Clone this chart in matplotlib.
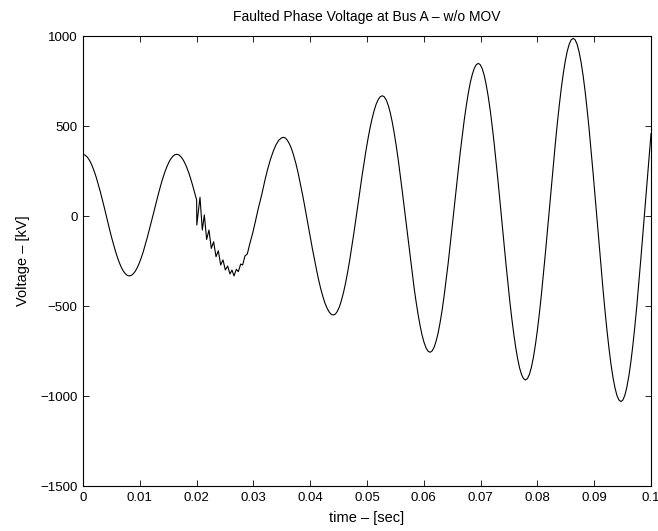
import matplotlib
matplotlib.use("Agg")
import matplotlib.pyplot as plt
#--- Values ---#
# prefault steady state (up to the fault instant)
prefault_t = [0.0, 0.00034, 0.00068, 0.00102, 0.00136, 0.00170, 0.00204, 0.00238, 0.00272, 0.00306,
              0.00340, 0.00374, 0.00408, 0.00441, 0.00475, 0.00509, 0.00543, 0.00577, 0.00611, 0.00645,
              0.00679, 0.00713, 0.00747, 0.00781, 0.00815, 0.00850, 0.00885, 0.00920, 0.00954, 0.00989,
              0.01024, 0.01059, 0.01093, 0.01128, 0.01163, 0.01198, 0.01233, 0.01267, 0.01302, 0.01337,
              0.01372, 0.01407, 0.01441, 0.01476, 0.01511, 0.01546, 0.01580, 0.01615, 0.0165, 0.01685,
              0.01719, 0.01754, 0.01788, 0.01823, 0.01858, 0.01892, 0.01927, 0.01975, 0.02001]
prefault_v = [342, 339, 330, 316, 297, 272, 243, 210, 173, 134,
              92, 49, 4, -40, -83, -125, -164, -201, -234, -263,
              -288, -307, -321, -330, -333, -330, -321, -307, -288, -263,
              -234, -201, -164, -124, -82, -39, 5, 49, 92, 134,
              174, 211, 244, 273, 298, 317, 331, 340, 343, 340,
              331, 317, 298, 273, 244, 211, 174, 118, 89]
# high frequency ringing right after the fault
transient_t = [0.02004, 0.02060, 0.02101, 0.02136, 0.02177, 0.02218, 0.02259, 0.02300, 0.02342, 0.02383,
               0.02424, 0.02465, 0.02506, 0.02547, 0.02588, 0.02623, 0.02659, 0.02700, 0.02735, 0.02776,
               0.02811, 0.02852, 0.02893, 0.02940, 0.02987, 0.03034, 0.03087, 0.03146, 0.03204]
transient_v = [-50, 104, -78, 6, -130, -78, -180, -143, -226, -193,
               -272, -244, -300, -278, -322, -300, -333, -296, -309, -267,
               -272, -222, -211, -150, -96, -32, 43, 117, 200]
# growing oscillation after the fault
postfault_t = [0.0325, 0.0330, 0.0335, 0.0340, 0.0345, 0.0350, 0.03527,
               0.03564, 0.03600, 0.03637, 0.03674, 0.03710, 0.03747, 0.03784, 0.03820, 0.03857, 0.03894,
               0.03930, 0.03967, 0.04004, 0.04040, 0.04077, 0.04114, 0.04150, 0.04187, 0.04224, 0.04260,
               0.04297, 0.04334, 0.04370, 0.04407,
               0.04443, 0.04479, 0.04515, 0.04551, 0.04587, 0.04623, 0.04659, 0.04695, 0.04731, 0.04767,
               0.04803, 0.04839, 0.04874, 0.04910, 0.04946, 0.04982, 0.05018, 0.05054, 0.05090, 0.05126,
               0.05162, 0.05198, 0.05234, 0.0527,
               0.05305, 0.0534, 0.05375, 0.0541, 0.05445, 0.0548, 0.05515, 0.0555, 0.05585, 0.0562,
               0.05655, 0.0569, 0.05725, 0.0576, 0.05795, 0.0583, 0.05865, 0.0590, 0.05935, 0.0597,
               0.06005, 0.0604, 0.06075, 0.0611,
               0.06145, 0.06181, 0.06216, 0.06252, 0.06287, 0.06323, 0.06358, 0.06393, 0.06429, 0.06464,
               0.06500, 0.06535, 0.06570, 0.06606, 0.06641, 0.06677, 0.06712, 0.06748, 0.06783, 0.06818,
               0.06854, 0.06889, 0.06925, 0.0696,
               0.06995, 0.07029, 0.07064, 0.07098, 0.07133, 0.07168, 0.07202, 0.07237, 0.07271, 0.07306,
               0.07340, 0.07375, 0.07410, 0.07444, 0.07479, 0.07513, 0.07548, 0.07583, 0.07617, 0.07652,
               0.07686, 0.07721, 0.07755, 0.0779,
               0.07825, 0.0786, 0.07895, 0.0793, 0.07965, 0.0800, 0.08035, 0.0807, 0.08105, 0.0814,
               0.08175, 0.0821, 0.08245, 0.0828, 0.08315, 0.0835, 0.08385, 0.0842, 0.08455, 0.0849,
               0.08525, 0.0856, 0.08595, 0.0863,
               0.08665, 0.0870, 0.08735, 0.0877, 0.08805, 0.0884, 0.08875, 0.0891, 0.08945, 0.0898,
               0.09015, 0.0905, 0.09085, 0.0912, 0.09155, 0.0919, 0.09225, 0.0926, 0.09295, 0.0933,
               0.09365, 0.0940, 0.09435, 0.0947,
               0.09505, 0.0954, 0.09575, 0.0961, 0.09645, 0.0968, 0.09715, 0.0975, 0.09785, 0.0982,
               0.09855, 0.0989, 0.09925, 0.0996, 0.09995, 0.1000]
postfault_v = [259, 314, 360, 397, 422, 435, 437,
               433, 420, 399, 371, 335, 293, 244, 190, 132, 71,
               8, -57, -121, -184, -245, -303, -357, -406, -448, -484,
               -512, -533, -546, -550,
               -545, -529, -504, -468, -424, -372, -312, -246, -174, -99,
               -21, 59, 139, 217, 292, 364, 430, 490, 542, 586,
               622, 647, 663, 668,
               662, 644, 614, 573, 521, 459, 389, 312, 228, 140,
               49, -45, -138, -229, -317, -401, -478, -548, -610, -662,
               -703, -733, -751, -757,
               -750, -730, -696, -650, -591, -522, -443, -356, -262, -162,
               -59, 46, 150, 253, 353, 447, 534, 613, 682, 741,
               787, 821, 841, 848,
               840, 818, 781, 730, 666, 590, 504, 408, 305, 196,
               83, -32, -146, -259, -368, -471, -567, -653, -729, -793,
               -844, -881, -903, -911,
               -903, -879, -839, -784, -715, -633, -540, -437, -325, -208,
               -86, 38, 162, 284, 401, 513, 616, 709, 791, 860,
               915, 955, 979, 987,
               978, 953, 910, 852, 779, 692, 592, 483, 364, 239,
               110, -22, -154, -283, -408, -527, -636, -736, -823, -896,
               -954, -997, -1022, -1031,
               -1022, -995, -950, -888, -811, -719, -614, -498, -373, -241,
               -105, 35, 174, 310, 442, 458]

x_ticks = [0, 0.01, 0.02, 0.03, 0.04, 0.05, 0.06, 0.07, 0.08, 0.09, 0.1]
x_ticklabels = ["0", "0.01", "0.02", "0.03", "0.04", "0.05", "0.06", "0.07", "0.08", "0.09", "0.1"]
y_ticks = [-1500, -1000, -500, 0, 500, 1000]

#--- Plot ---#
plt.rcParams["font.family"] = ["Liberation Sans", "DejaVu Sans"]
plt.rcParams["font.size"] = 9.5

t = prefault_t + transient_t + postfault_t
v = prefault_v + transient_v + postfault_v

fig = plt.figure(figsize=(6.58, 5.31), dpi=100)
ax = fig.add_axes([0.1261, 0.0847, 0.8633, 0.8475])
ax.plot(t, v, color="black", linewidth=0.8)
ax.set_xlim(0, 0.1)
ax.set_ylim(-1500, 1000)
ax.set_xticks(x_ticks)
ax.set_xticklabels(x_ticklabels)
ax.set_yticks(y_ticks)
ax.tick_params(direction="in", length=4, width=0.6, top=True, right=True, pad=4)
for s in ax.spines.values():
    s.set_linewidth(0.8)
ax.set_title("Faulted Phase Voltage at Bus A \u2013 w/o MOV", fontsize=10, pad=11)
ax.set_xlabel("time \u2013 [sec]", fontsize=10.5, labelpad=5)
ax.set_ylabel("Voltage \u2013 [kV]", fontsize=10.5, labelpad=7)
fig.savefig("out.png", dpi=100)
